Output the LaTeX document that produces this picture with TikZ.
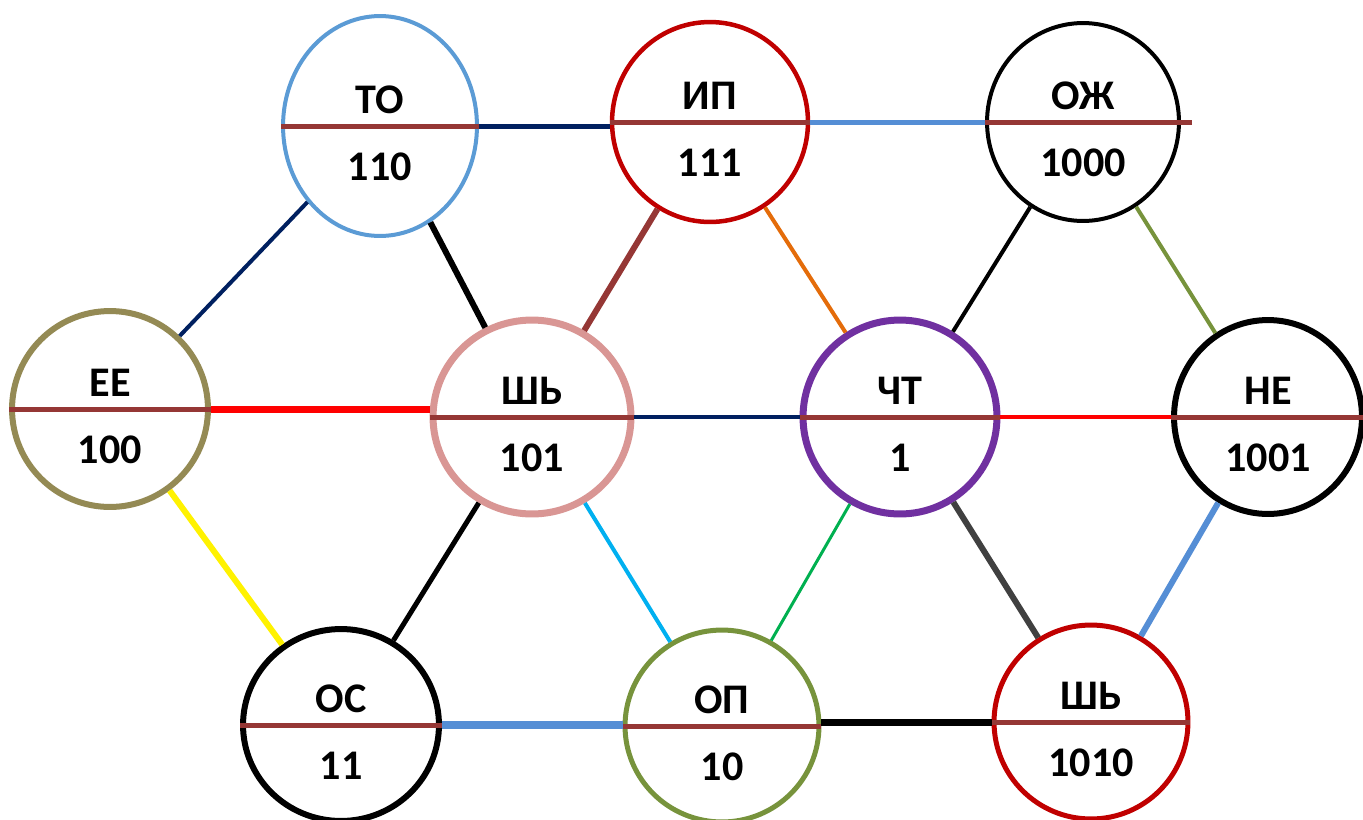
\documentclass[tikz,border=0pt]{standalone}
\usepackage{fontspec}
\setmainfont{Carlito}
\usetikzlibrary{shapes.geometric}
\definecolor{skyblue}{HTML}{5B9BD5}
\definecolor{darkred}{HTML}{C00000}
\definecolor{khaki}{HTML}{948A54}
\definecolor{rosy}{HTML}{D99694}
\definecolor{violet}{HTML}{7030A0}
\definecolor{leaf}{HTML}{77933C}
\definecolor{brick}{HTML}{953735}
\definecolor{navy}{HTML}{002060}
\definecolor{steel}{HTML}{558ED5}
\definecolor{amber}{HTML}{E46C0A}
\definecolor{cyanish}{HTML}{00B0F0}
\definecolor{grass}{HTML}{00B050}
\definecolor{graphite}{HTML}{404040}
\tikzset{
  vertex/.style={ellipse, draw, fill=white, inner sep=0pt},
  divider/.style={brick, line width=0.1cm},
  tag/.style={font=\bfseries\fontsize{24}{28}\selectfont},
  link/.style={line width={#1*0.02cm}}
}
\begin{document}
\begin{tikzpicture}[x=0.02cm, y=-0.02cm]
    \useasboundingbox (0,0) rectangle (1363,819);
    % Vertices: name/x/y/half width/half height/colour/line/top/bottom
    \foreach \n/\x/\y/\w/\h/\c/\lw/\t/\b in {
        to/380/126/97/110/skyblue/4/ТО/110,
        ip/710/122/98/100/darkred/4.5/ИП/111,
        oz/1083/122/96/99/black/4/ОЖ/1000,
        ee/110/409/98/98/khaki/6/ЕЕ/100,
        shA/532/417/99/97/rosy/7/ШЬ/101,
        ch/900/417/97/97/violet/7/ЧТ/1,
        ne/1268/417/94/97/black/6/НЕ/1001,
        os/341/725/98/96/black/6/ОС/11,
        op/722/726/97/96/leaf/5/ОП/10,
        shB/1091/722/97/97/darkred/5/ШЬ/1010}
    {
        \node[vertex, draw=\c, line width={\lw*0.02cm},
              minimum width={\w*0.04cm}, minimum height={\h*0.04cm}] (\n) at (\x,\y) {};
        \draw[divider] (\n.west) -- (\n.east);
        \node[tag] (\n-t) at (\x,\y-26) {\t};
        \node[tag] (\n-b) at (\x,\y+41) {\b};
    }
    \draw[divider] (oz.east) -- ++(11,0);
    \draw[divider] (ne.east) -- ++(6,0);
    % Top row
    \draw[link=5, navy] (to.east) -- (to.east -| ip.west);
    \draw[link=5, steel] (ip.east) -- (oz.west);
    % Top to middle
    \draw[link=4, navy] (to) -- (ee);
    \draw[link=6, black] (to) -- (shA);
    \draw[link=6, brick] (ip) -- (shA);
    \draw[link=4, amber] (ip) -- (ch);
    \draw[link=4, black] (oz) -- (ch);
    \draw[link=4, leaf] (oz) -- (ne);
    % Middle row
    \draw[link=7, red] (ee.east) -- (ee.east -| shA.west);
    \draw[link=4, navy] (shA.east) -- (ch.west);
    \draw[link=4, red] (ch.east) -- (ne.west);
    % Middle to bottom
    \draw[link=6, yellow] (ee) -- (os);
    \draw[link=5, black] (shA) -- (os);
    \draw[link=4, cyanish] (shA) -- (op);
    \draw[link=3, grass] (ch) -- (op);
    \draw[link=6, graphite] (ch) -- (shB);
    \draw[link=6, steel] (ne) -- (shB);
    % Bottom row
    \draw[link=8, steel] (os.east) -- (os.east -| op.west);
    \draw[link=7, black] (shB.west -| op.east) -- (shB.west);
\end{tikzpicture}
\end{document}
